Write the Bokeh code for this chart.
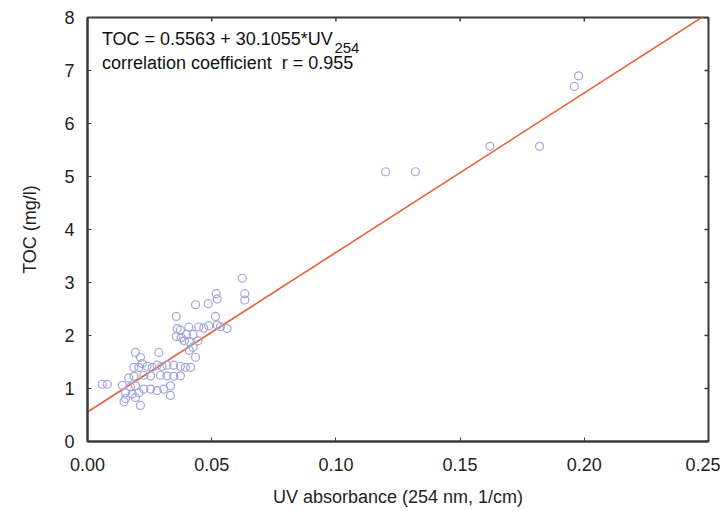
import math
from bokeh.plotting import figure
from bokeh.models import Range1d, Label, FixedTicker, ColumnDataSource
from bokeh.embed import file_html
from bokeh.resources import INLINE

# Regression annotation
intercept = 0.5563
slope = 30.1055
r_value = 0.955

# Measured points (UV254 absorbance, TOC mg/l)
uv = [0.0059, 0.0080, 0.0140,
      0.0623, 0.0518, 0.0522, 0.0486, 0.0435, 0.0633, 0.0633, 0.0357, 0.0515,
      0.0361, 0.0374, 0.0408, 0.0448, 0.0468, 0.0488, 0.0522, 0.0535, 0.0562,
      0.0357, 0.0377, 0.0398, 0.0425,
      0.0390, 0.0410, 0.0445,
      0.0410, 0.0425, 0.0435,
      0.0193, 0.0213, 0.0220, 0.0287,
      0.0187, 0.0207, 0.0240, 0.0260, 0.0280, 0.0300, 0.0320, 0.0347, 0.0374, 0.0394, 0.0415,
      0.0166, 0.0187, 0.0227, 0.0254, 0.0294, 0.0320, 0.0347, 0.0374,
      0.0173, 0.0193, 0.0227, 0.0254, 0.0280, 0.0307, 0.0334,
      0.0153, 0.0180, 0.0207, 0.0334,
      0.0153, 0.0193, 0.0147, 0.0213,
      0.1200, 0.1320, 0.1620, 0.1820, 0.1960, 0.1977]
toc = [1.08, 1.08, 1.06,
       3.08, 2.79, 2.69, 2.60, 2.58, 2.79, 2.67, 2.36, 2.36,
       2.13, 2.10, 2.16, 2.16, 2.14, 2.18, 2.20, 2.17, 2.13,
       1.98, 1.96, 2.02, 2.02,
       1.90, 1.88, 1.90,
       1.72, 1.78, 1.59,
       1.68, 1.59, 1.47, 1.68,
       1.40, 1.40, 1.42, 1.40, 1.44, 1.42, 1.44, 1.44, 1.42, 1.40, 1.40,
       1.20, 1.23, 1.25, 1.24, 1.25, 1.24, 1.23, 1.24,
       1.03, 1.05, 0.99, 0.99, 0.96, 0.99, 1.05,
       0.92, 0.90, 0.92, 0.87,
       0.81, 0.83, 0.75, 0.68,
       5.09, 5.09, 5.57, 5.57, 6.70, 6.90]

x_ticks = [0.0, 0.05, 0.10, 0.15, 0.20, 0.25]
x_tick_labels = ["0.00", "0.05", "0.10", "0.15", "0.20", "0.25"]
y_ticks = [0, 1, 2, 3, 4, 5, 6, 7, 8]
x_max = 0.25
y_max = 8

FONT = "Liberation Sans"
AX = "#3a3a3a"

p = figure(width=720, height=511, output_backend="svg", toolbar_location=None,
           x_range=Range1d(0, x_max), y_range=Range1d(0, y_max),
           min_border_left=87, min_border_right=12, min_border_top=17, min_border_bottom=70)
p.grid.visible = False
p.outline_line_color = AX
p.outline_line_width = 2
p.background_fill_color = "white"
p.border_fill_color = "white"

for ax in (p.xaxis[0], p.yaxis[0]):
    ax.axis_line_color = AX
    ax.axis_line_width = 2
    ax.major_tick_in = 4
    ax.major_tick_out = 0
    ax.minor_tick_line_color = None
    ax.major_tick_line_color = AX
    ax.major_label_text_font = FONT
    ax.major_label_text_font_size = "18px"
    ax.major_label_text_color = "#222222"
    ax.axis_label_text_font = FONT
    ax.axis_label_text_font_size = "18px"
    ax.axis_label_text_font_style = "normal"
    ax.axis_label_text_color = "#222222"

p.xaxis[0].ticker = FixedTicker(ticks=x_ticks)
p.xaxis[0].major_label_overrides = {t: l for t, l in zip(x_ticks, x_tick_labels)}
p.xaxis[0].major_label_standoff = 16
p.xaxis[0].axis_label = "UV absorbance (254 nm, 1/cm)"
p.xaxis[0].axis_label_standoff = 13

p.yaxis[0].ticker = FixedTicker(ticks=y_ticks)
p.yaxis[0].major_label_standoff = 13
p.yaxis[0].axis_label = "TOC (mg/l)"
p.yaxis[0].axis_label_standoff = 21

# inward tick marks on the right and top edges of the box
p.scatter([x_max] * len(y_ticks), y_ticks, marker="dash", size=8,
          line_color=AX, line_width=1.5)
p.scatter(x_ticks, [y_max] * len(x_ticks), marker="dash", size=8, angle=math.pi / 2,
          line_color=AX, line_width=1.5)

# regression line
lx = [0.0, x_max]
ly = [intercept + slope * v for v in lx]
p.line(lx, ly, line_color="#e8603c", line_width=1.6)

src = ColumnDataSource(data=dict(x=uv, y=toc))
p.scatter("x", "y", source=src, marker="circle", size=8, fill_color=None,
          line_color="#a4a4d8", line_width=1.2)

p.add_layout(Label(x=0.0058, y=7.585, text="TOC = 0.5563 + 30.1055*UV",
                   text_font=FONT, text_font_size="18px", text_baseline="middle",
                   text_color="#111111"))
p.add_layout(Label(x=0.0994, y=7.43, text="254",
                   text_font=FONT, text_font_size="15px", text_baseline="middle",
                   text_color="#111111"))
p.add_layout(Label(x=0.0058, y=7.15, text="correlation coefficient\u00a0\u00a0r = %.3f" % r_value,
                   text_font=FONT, text_font_size="18px", text_baseline="middle",
                   text_color="#111111"))

open("out.html", "w").write(file_html(p, INLINE))
